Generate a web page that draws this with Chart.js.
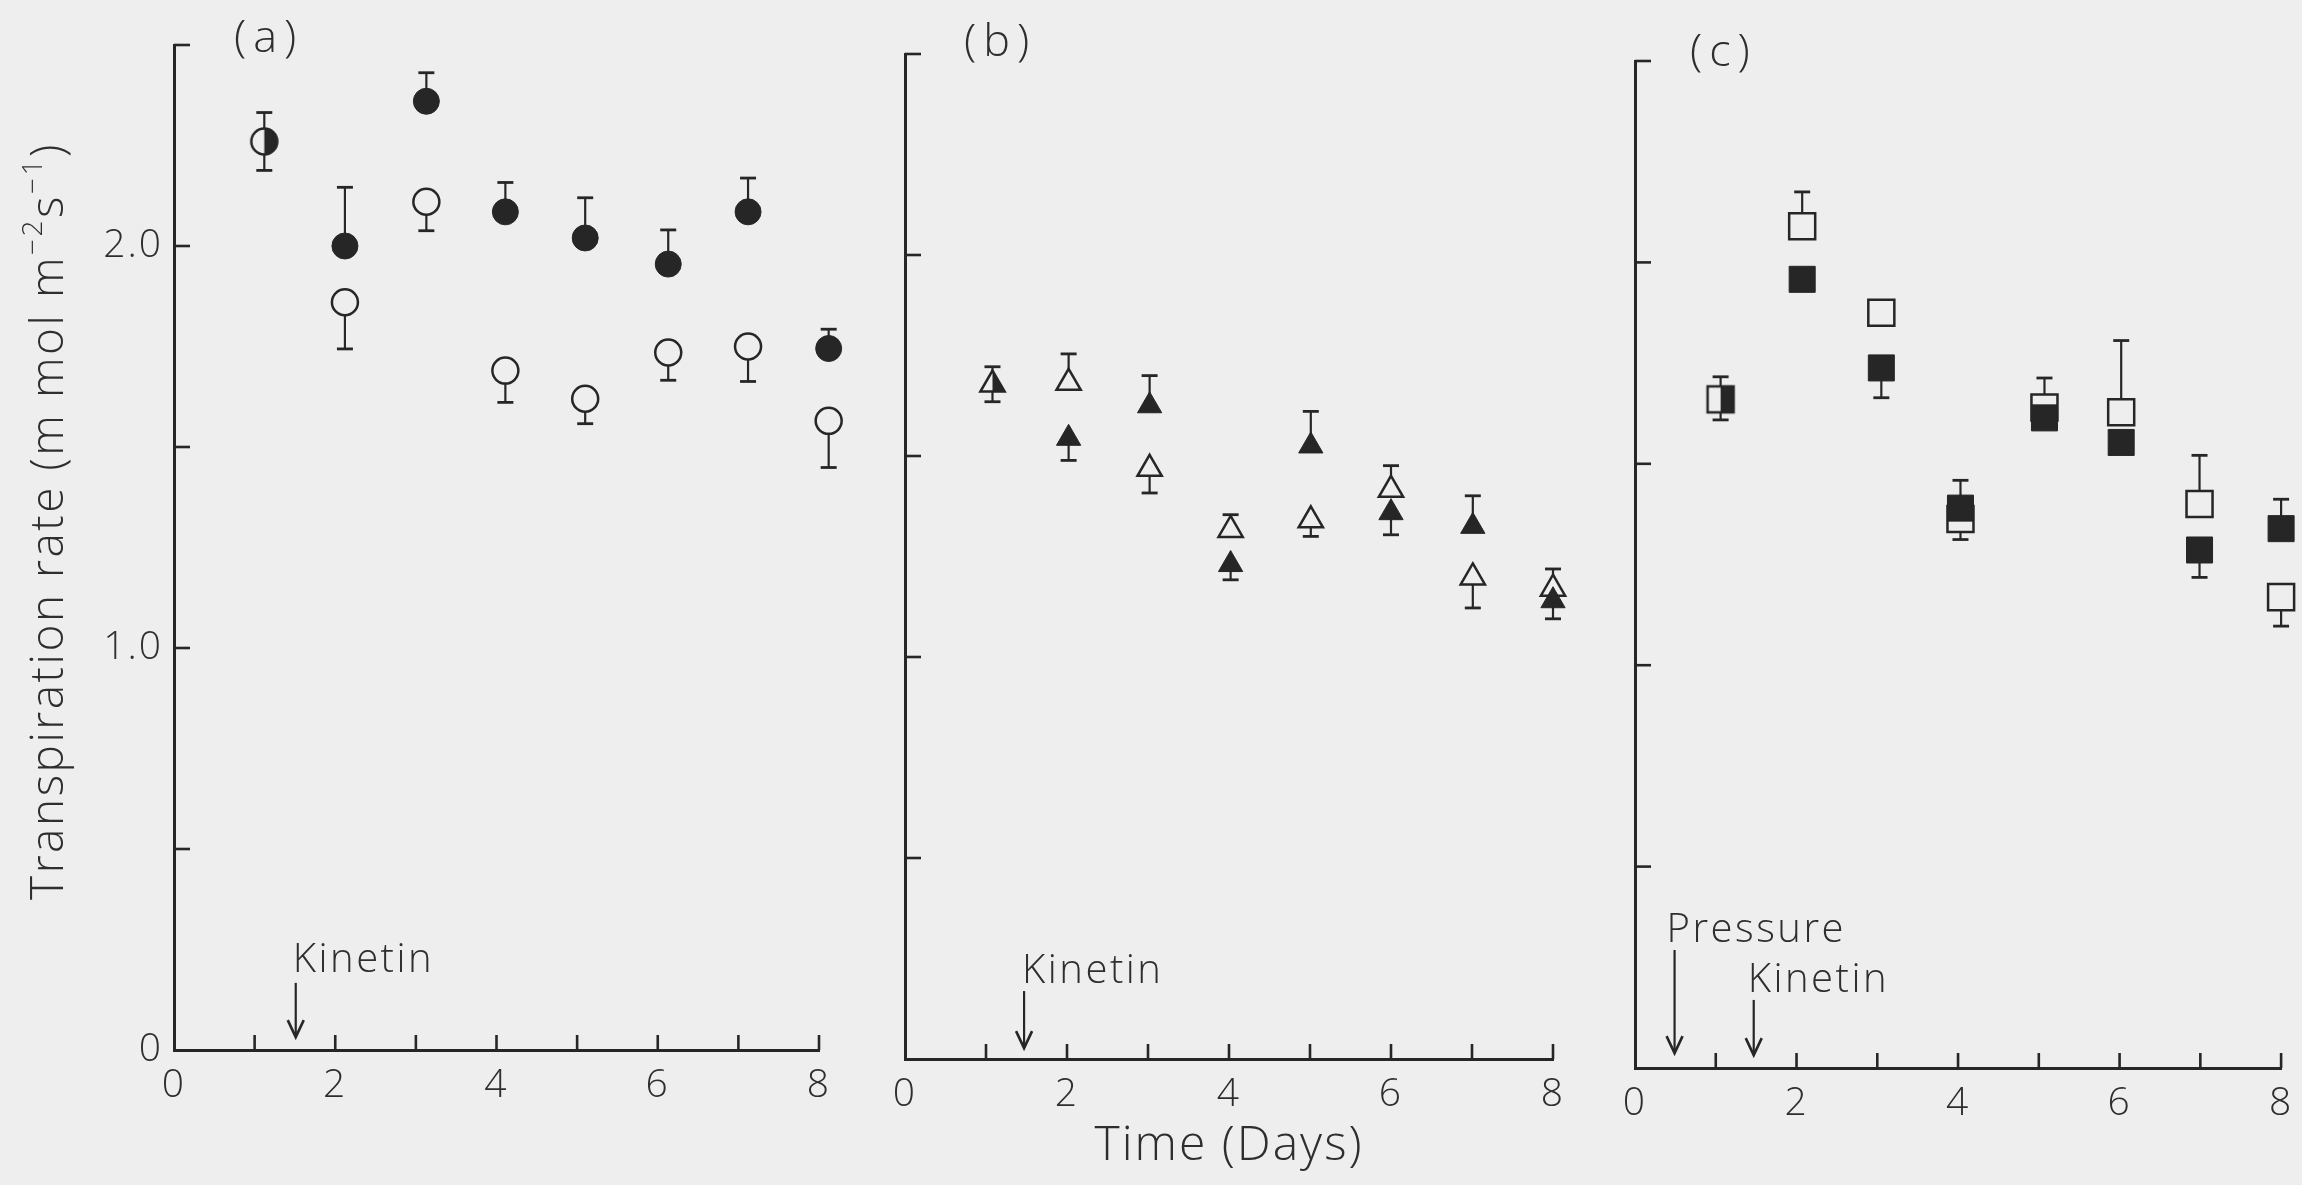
<!DOCTYPE html>
<html>
<head>
<meta charset="utf-8">
<title>Transpiration rate</title>
<script src="https://cdn.jsdelivr.net/npm/chart.js"></script>
<style>
  html, body { margin: 0; padding: 0; background: #eeeeee; }
  #wrap { position: relative; width: 2302px; height: 1185px; overflow: hidden; background: #eeeeee; }
  #wrap canvas { position: absolute; left: 0; top: 0; }
</style>
</head>
<body>
<div id="wrap">
  <canvas id="panelA" width="2302" height="1185"></canvas>
  <canvas id="panelB" width="2302" height="1185"></canvas>
  <canvas id="panelC" width="2302" height="1185"></canvas>
</div>
<script>
// ---------------- data ----------------
const xTickLabels = ['0', '', '2', '', '4', '', '6', '', '8'];
const yTickLabelsA = ['0', '', '1.0', '', '2.0', ''];
const yTickLabelsBC = ['', '', '', '', '', ''];

const yAxisTitle = ['Transpiration rate (m mol m', '\u22122', 's', '\u22121', ')'];
const xAxisTitle = 'Time (Days)';
const panelLabels = ['(a)', '(b)', '(c)'];

// Panel (a): circles
const daysA      = [1.12, 2.12, 3.13, 4.11, 5.10, 6.13, 7.12, 8.12];
const filledA    = [2.26, 2.00, 2.36, 2.085, 2.02, 1.955, 2.085, 1.745];
const filledErrA = [0.072, 0.146, 0.071, 0.073, 0.10, 0.085, 0.084, 0.048];
const openA      = [2.26, 1.86, 2.11, 1.69, 1.62, 1.735, 1.75, 1.565];
const openErrA   = [-0.072, -0.116, -0.072, -0.079, -0.062, -0.069, -0.087, -0.116];

// Panel (b): triangles
const daysB      = [1.08, 2.02, 3.02, 4.02, 5.01, 6.00, 7.01, 8.00];
const filledB    = [1.678, 1.544, 1.625, 1.23, 1.525, 1.359, 1.325, 1.14];
const filledErrB = [-0.043, -0.055, 0.075, -0.038, 0.086, -0.055, 0.076, -0.045];
const openB      = [1.678, 1.682, 1.468, 1.316, 1.340, 1.416, 1.198, 1.170];
const openErrB   = [0.044, 0.072, -0.06, 0.038, -0.04, 0.06, -0.076, 0.049];

// Panel (c): squares
const daysC      = [1.06, 2.07, 3.05, 4.03, 5.07, 6.02, 6.99, 8.00];
const filledC    = [1.66, 1.958, 1.738, 1.39, 1.614, 1.553, 1.286, 1.339];
const filledErrC = [-0.051, 0, -0.074, 0.069, 0, 0, -0.068, 0.073];
const openC      = [1.66, 2.09, 1.875, 1.363, 1.64, 1.628, 1.40, 1.169];
const openErrC   = [0.056, 0.085, 0, -0.051, 0.073, 0.178, 0.121, -0.072];

// Treatment arrows (day of application)
const kinetinDays = [1.51, 1.47, 1.47];
const pressureDay = 0.49;

// ---------------- styling ----------------
const INK = '#262626';
const TEXT = '#2e2e2e';
const BG = '#eeeeee';
const FAMILY = "'Open Sans', 'Liberation Sans', 'DejaVu Sans', sans-serif";

function shapePath(g, shape, cx, cy, r) {
  g.beginPath();
  if (shape === 'circle') {
    g.arc(cx, cy, r, 0, Math.PI * 2);
  } else if (shape === 'triangle') {
    for (let k = 0; k < 3; k++) {
      const a = k * 2 * Math.PI / 3;
      const px = cx + Math.sin(a) * r, py = cy - Math.cos(a) * r;
      if (k) g.lineTo(px, py); else g.moveTo(px, py);
    }
    g.closePath();
  } else {
    const h = r * Math.SQRT1_2;
    g.rect(cx - h, cy - h, 2 * h, 2 * h);
  }
}
function halfMarker(shape, r, bw) {
  const s = Math.ceil(2 * r + 2 * bw + 4);
  const c = document.createElement('canvas');
  c.width = s; c.height = s;
  const g = c.getContext('2d');
  const m = s / 2;
  shapePath(g, shape, m, m, r); g.fillStyle = BG; g.fill();
  g.save(); shapePath(g, shape, m, m, r); g.clip();
  g.fillStyle = INK; g.fillRect(m, 0, s, s); g.restore();
  shapePath(g, shape, m, m, r); g.lineWidth = bw; g.strokeStyle = INK; g.stroke();
  return c;
}

const spacingPlugin = {
  id: 'spacing',
  beforeDraw(chart) { chart.ctx.letterSpacing = '2px'; }
};

const errorBarPlugin = {
  id: 'errorBars',
  beforeDatasetsDraw(chart) {
    const { ctx, scales: { x, y } } = chart;
    ctx.save();
    ctx.strokeStyle = INK;
    chart.data.datasets.forEach(ds => {
      if (!ds.errors) return;
      ds.data.forEach((p, j) => {
        const e = ds.errors[j];
        if (!e) return;
        const px = x.getPixelForValue(p.x);
        const y0 = y.getPixelForValue(p.y);
        const y1 = y.getPixelForValue(p.y + e);
        ctx.lineWidth = 2.2;
        ctx.beginPath(); ctx.moveTo(px, y0); ctx.lineTo(px, y1); ctx.stroke();
        ctx.lineWidth = 2.8;
        ctx.beginPath(); ctx.moveTo(px - 8, y1); ctx.lineTo(px + 8, y1); ctx.stroke();
      });
    });
    ctx.restore();
  }
};

const inwardTicksPlugin = {
  id: 'inwardTicks',
  beforeDatasetsDraw(chart) {
    const { ctx, chartArea: a, scales: { x, y } } = chart;
    ctx.save();
    ctx.strokeStyle = INK;
    ctx.lineWidth = 2.6;
    y.ticks.forEach(t => {
      if (t.value <= 0) return;
      const py = y.getPixelForValue(t.value);
      ctx.beginPath(); ctx.moveTo(a.left, py); ctx.lineTo(a.left + 16, py); ctx.stroke();
    });
    x.ticks.forEach(t => {
      if (t.value <= 0) return;
      const px = x.getPixelForValue(t.value);
      ctx.beginPath(); ctx.moveTo(px, a.bottom); ctx.lineTo(px, a.bottom - 15); ctx.stroke();
    });
    ctx.restore();
  }
};

function decorPlugin(p) {
  return {
    id: 'decor',
    afterDraw(chart) {
      const { ctx, scales: { x, y } } = chart;
      ctx.save();
      ctx.fillStyle = TEXT;
      ctx.strokeStyle = INK;
      ctx.textAlign = 'left';
      ctx.textBaseline = 'alphabetic';
      // panel label
      ctx.font = `300 45px ${FAMILY}`;
      ctx.letterSpacing = '7px';
      ctx.fillText(p.label, p.labelX, p.labelY);
      // treatment arrows
      p.arrows.forEach(ar => {
        const px = x.getPixelForValue(ar.day);
        const yt = y.getPixelForValue(ar.top);
        const yb = y.getPixelForValue(ar.tip);
        const yl = y.getPixelForValue(ar.text);
        ctx.lineWidth = 2.2;
        ctx.beginPath(); ctx.moveTo(px, yt); ctx.lineTo(px, yb); ctx.stroke();
        ctx.lineWidth = 2.6;
        ctx.beginPath(); ctx.moveTo(px - 8, yb - 17); ctx.lineTo(px, yb); ctx.lineTo(px + 8, yb - 17); ctx.stroke();
        ctx.font = `300 40px ${FAMILY}`;
        ctx.letterSpacing = '2.5px';
        ctx.fillText(ar.label, px + ar.dx, yl);
      });
      // y axis title (panel a only)
      if (p.yTitle) {
        const big = `300 46px ${FAMILY}`, small = `300 28px ${FAMILY}`;
        ctx.translate(p.yTitle.x, p.yTitle.y);
        ctx.rotate(-Math.PI / 2);
        ctx.letterSpacing = '2.5px';
        const parts = yAxisTitle.map((t, i) => ({ t, sup: i % 2 === 1 }));
        let total = 0;
        parts.forEach(pt => { ctx.font = pt.sup ? small : big; pt.w = ctx.measureText(pt.t).width; total += pt.w; });
        let cx = -total / 2;
        parts.forEach(pt => {
          ctx.font = pt.sup ? small : big;
          ctx.fillText(pt.t, cx, pt.sup ? -21 : 0);
          cx += pt.w;
        });
      }
      ctx.restore();
    }
  };
}

function makePanel(id, g, s) {
  const half = halfMarker(s.shape, s.r, 2.5);
  const filledPts = s.days.map((d, i) => ({ x: d, y: s.filled[i] }));
  const openPts = s.days.map((d, i) => ({ x: d, y: s.open[i] }));
  const tickFont = { family: FAMILY, size: 39, weight: '300' };
  return new Chart(document.getElementById(id).getContext('2d'), {
    type: 'scatter',
    data: {
      datasets: [
        {
          label: 'with kinetin',
          data: filledPts, errors: s.filledErr,
          pointStyle: s.shape,
          pointRadius: s.days.map((d, i) => (i === 0 ? 0 : s.r)),
          backgroundColor: INK, borderColor: INK, borderWidth: 1,
          clip: false
        },
        {
          label: 'without kinetin',
          data: openPts, errors: s.openErr,
          pointStyle: s.days.map((d, i) => (i === 0 ? half : s.shape)),
          pointRadius: s.r,
          backgroundColor: BG, borderColor: INK, borderWidth: 2.5,
          clip: false
        }
      ]
    },
    options: {
      responsive: false,
      animation: false,
      events: [],
      layout: { padding: { left: 10, top: g.top, right: 2302 - g.right, bottom: 1185 - g.bottom - g.xH } },
      plugins: { legend: { display: false }, tooltip: { enabled: false } },
      scales: {
        x: {
          type: 'linear', min: 0, max: 8,
          afterFit: sc => { sc.height = g.xH; sc.paddingLeft = 0; sc.paddingRight = 0; },
          ticks: {
            stepSize: 1, autoSkip: false, maxRotation: 0, padding: 12,
            callback: (v, i) => xTickLabels[i],
            font: tickFont, color: TEXT
          },
          grid: { display: false, drawTicks: false },
          border: { display: true, color: INK, width: 3 },
          title: s.xTitle
            ? { display: true, text: xAxisTitle, color: TEXT, font: { family: FAMILY, size: 48, weight: '300' }, padding: { top: 0, bottom: 4 } }
            : { display: false }
        },
        y: {
          type: 'linear', min: 0, max: 2.5,
          afterFit: sc => { sc.width = g.left - 10; sc.paddingTop = 0; sc.paddingBottom = 0; },
          ticks: {
            stepSize: 0.5, autoSkip: false, padding: 11,
            callback: (v, i) => s.yLabels[i],
            font: tickFont, color: TEXT
          },
          grid: { display: false, drawTicks: false },
          border: { display: true, color: INK, width: 3 }
        }
      }
    },
    plugins: [spacingPlugin, errorBarPlugin, inwardTicksPlugin, decorPlugin(s.decor)]
  });
}

makePanel('panelA', { left: 174, top: 45, right: 819, bottom: 1050, xH: 60 }, {
  shape: 'circle', r: 13, days: daysA, filled: filledA, filledErr: filledErrA, open: openA, openErr: openErrA,
  yLabels: yTickLabelsA, xTitle: false,
  decor: {
    label: panelLabels[0], labelX: 234, labelY: 52,
    arrows: [{ label: 'Kinetin', day: kinetinDays[0], top: 0.167, tip: 0.032, text: 0.194, dx: -3 }],
    yTitle: { x: 63, y: 521 }
  }
});
makePanel('panelB', { left: 905, top: 54, right: 1553, bottom: 1059, xH: 120 }, {
  shape: 'triangle', r: 14, days: daysB, filled: filledB, filledErr: filledErrB, open: openB, openErr: openErrB,
  yLabels: yTickLabelsBC, xTitle: true,
  decor: {
    label: panelLabels[1], labelX: 964, labelY: 56,
    arrows: [{ label: 'Kinetin', day: kinetinDays[1], top: 0.169, tip: 0.027, text: 0.189, dx: -2 }]
  }
});
makePanel('panelC', { left: 1635, top: 61, right: 2284, bottom: 1068, xH: 60 }, {
  shape: 'rect', r: 18.4, days: daysC, filled: filledC, filledErr: filledErrC, open: openC, openErr: openErrC,
  yLabels: yTickLabelsBC, xTitle: false,
  decor: {
    label: panelLabels[2], labelX: 1690, labelY: 66,
    arrows: [
      { label: 'Pressure', day: pressureDay, top: 0.293, tip: 0.037, text: 0.313, dx: -8 },
      { label: 'Kinetin', day: kinetinDays[2], top: 0.169, tip: 0.032, text: 0.189, dx: -6 }
    ]
  }
});
</script>
</body>
</html>
